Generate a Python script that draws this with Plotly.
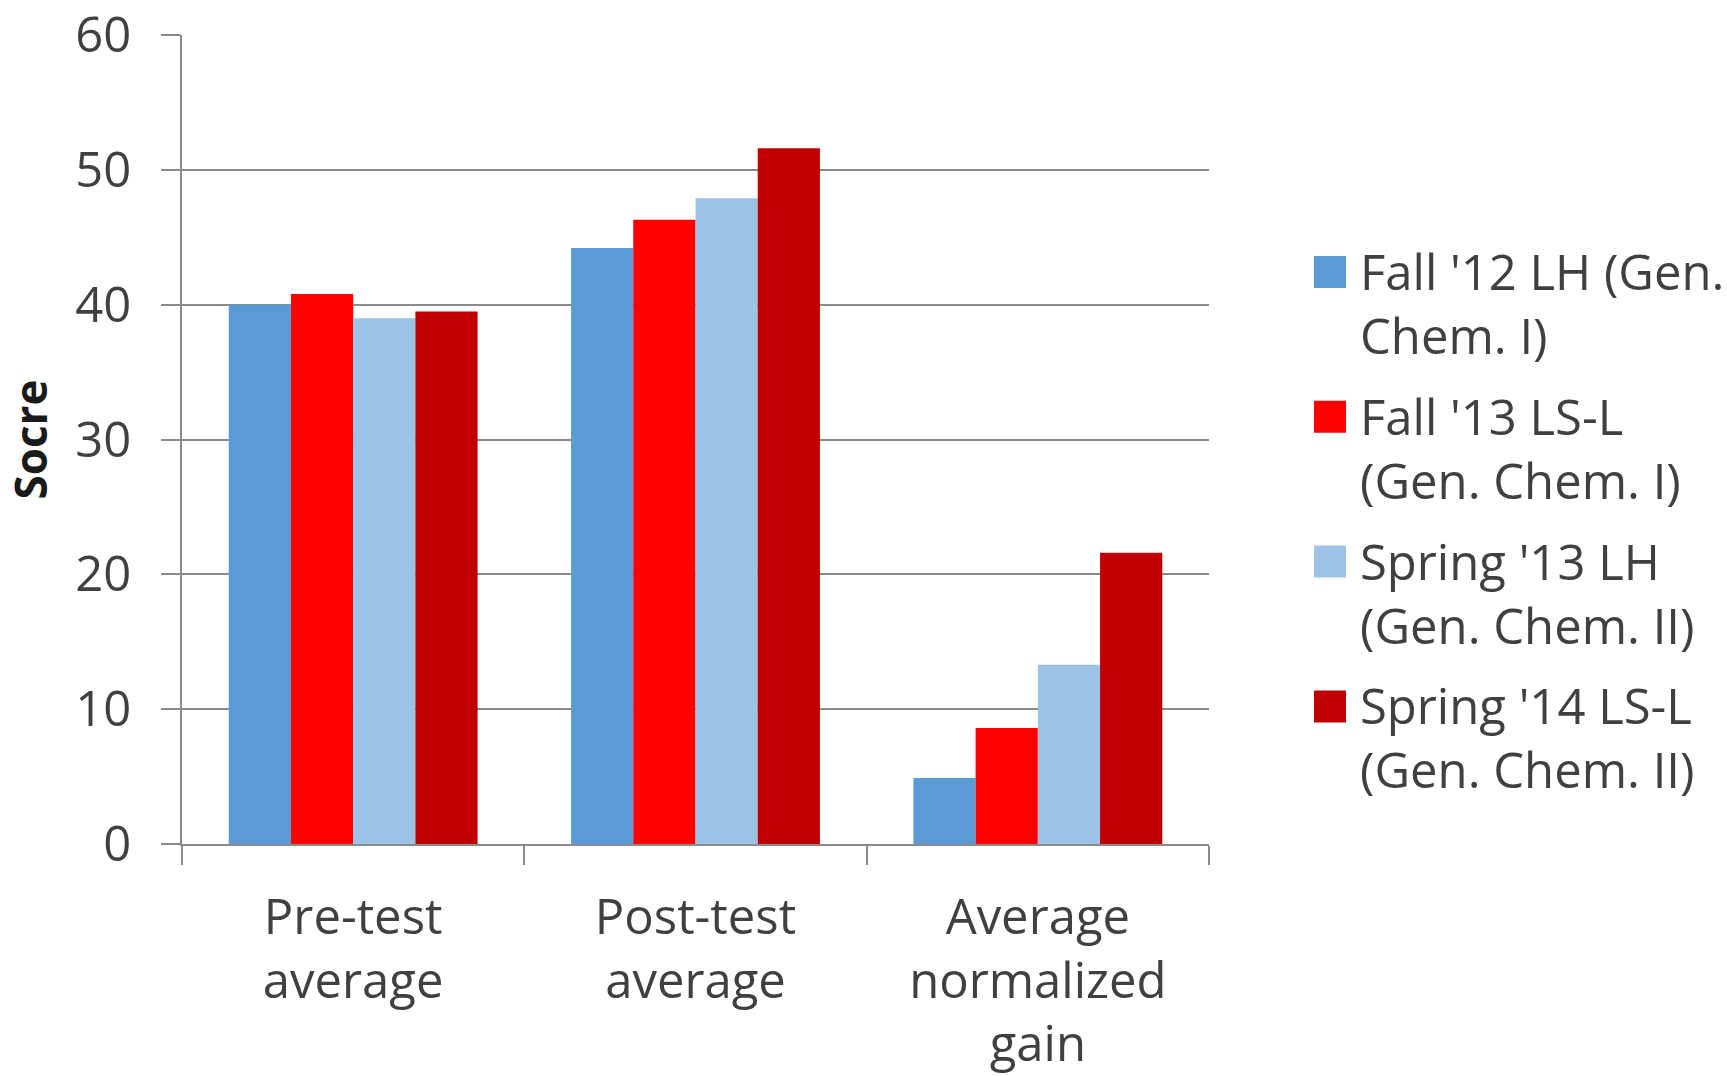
import plotly.graph_objects as go

# Score data per test measure and course section
categories = ["Pre-test<br>average", "Post-test<br>average", "Average<br>normalized<br>gain"]
series_names = [
    "Fall '12 LH (Gen.<br>Chem. I)",
    "Fall '13 LS-L<br>(Gen. Chem. I)",
    "Spring '13 LH<br>(Gen. Chem. II)",
    "Spring '14 LS-L<br>(Gen. Chem. II)",
]
fall12_lh = [40.0, 44.2, 4.9]
fall13_lsl = [40.8, 46.3, 8.6]
spring13_lh = [39.0, 47.9, 13.3]
spring14_lsl = [39.5, 51.6, 21.6]
series_values = [fall12_lh, fall13_lsl, spring13_lh, spring14_lsl]
series_colors = ["#5B9BD5", "#FF0000", "#9DC3E6", "#C00000"]
y_ticks = [0, 10, 20, 30, 40, 50, 60]

W, H = 1727, 1076
ML, MR, MT, MB = 182, 518, 35, 232
PW, PH = W - ML - MR, H - MT - MB
FONT = "Open Sans"
TEXT = "#404040"
GRID = "#8a8a8a"
FS = 49


def px_to_paper(x, y):
    return (x - ML) / PW, (H - MB - y) / PH


fig = go.Figure()
for name, vals, col in zip(series_names, series_values, series_colors):
    fig.add_trace(go.Bar(x=categories, y=vals, name=name, marker_color=col,
                         marker_line_width=0, showlegend=False))

# Side key: colour square plus wrapped series name
key_x0, key_size, key_top, key_step = 1314, 32, 256, 144.8
for i, (name, col) in enumerate(zip(series_names, series_colors)):
    top = key_top + i * key_step
    x0, y0 = px_to_paper(key_x0, top)
    x1, y1 = px_to_paper(key_x0 + key_size, top + key_size)
    fig.add_shape(type="rect", xref="paper", yref="paper", x0=x0, x1=x1, y0=y1, y1=y0,
                  fillcolor=col, line_width=0)
    tx, ty = px_to_paper(1358, top + key_size / 2 + 31)
    fig.add_annotation(xref="paper", yref="paper", x=tx, y=ty, text=name, showarrow=False,
                       xanchor="left", yanchor="middle", align="left",
                       font=dict(family=FONT, size=FS, color=TEXT))

fig.update_layout(
    width=W, height=H,
    margin=dict(l=ML, r=MR, t=MT, b=MB, autoexpand=False),
    paper_bgcolor="white", plot_bgcolor="white",
    barmode="group", bargap=0.273, bargroupgap=0,
    font=dict(family=FONT, size=FS, color=TEXT),
    xaxis=dict(
        type="category", tickson="boundaries", ticks="outside", ticklen=19,
        tickwidth=2, tickcolor=GRID, showline=True, linecolor=GRID, linewidth=2,
        showgrid=False, ticklabelstandoff=29,
        tickfont=dict(family=FONT, size=FS, color=TEXT),
    ),
    yaxis=dict(
        range=[0, 60], tickvals=y_ticks, ticks="outside", ticklen=19, tickwidth=2,
        tickcolor=GRID, showline=True, linecolor=GRID, linewidth=2,
        showgrid=True, gridcolor=GRID, gridwidth=2, zeroline=False,
        ticklabelstandoff=20,
        tickfont=dict(family=FONT, size=FS, color=TEXT),
        title=dict(text="<b>Socre</b>", standoff=18,
                   font=dict(family=FONT, size=44, color="#1a1a1a")),
    ),
)

fig.write_html("out.html")
